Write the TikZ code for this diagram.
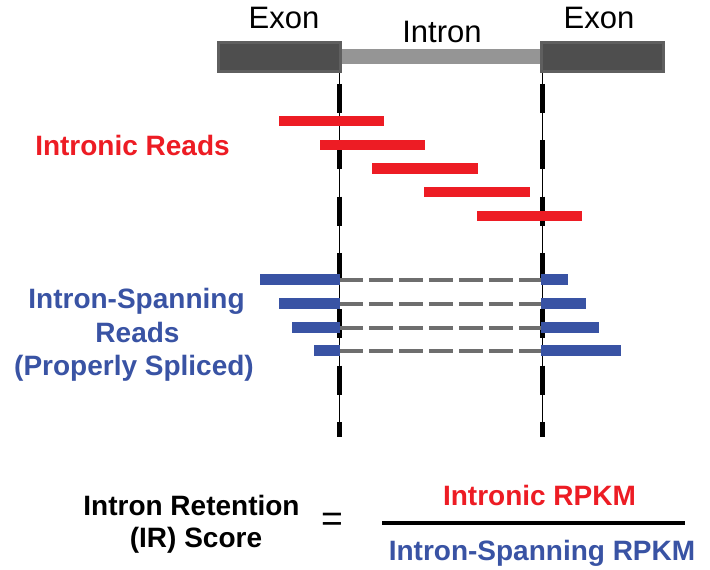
\documentclass[tikz,border=0pt]{standalone}
\usepackage{fontspec}
\setmainfont{Liberation Sans}
\definecolor{exonfill}{HTML}{4E4E4E}
\definecolor{exonedge}{HTML}{5F5F5F}
\definecolor{introngray}{HTML}{959595}
\definecolor{readred}{HTML}{ED1C24}
\definecolor{readblue}{HTML}{3953A4}
\definecolor{gapgray}{HTML}{6E6E6E}
\begin{document}
\begin{tikzpicture}[x=0.75pt,y=-0.75pt,
  exonbox/.style={fill=exonfill,draw=exonedge,line width=2.25pt},
  thinv/.style={draw=black,line width=0.9pt},
  thickdash/.style={draw=black,line width=3.75pt,dash pattern=on 21.75pt off 20.5pt},
  gapline/.style={draw=gapgray,line width=3.4pt,dash pattern=on 18pt off 4.5pt},
  redread/.style={fill=readred},
  blueread/.style={fill=readblue},
  toplabel/.style={anchor=base,inner sep=0pt,font=\fontsize{23.25}{28}\selectfont},
  boldlabel/.style={anchor=base,inner sep=0pt,font=\bfseries\fontsize{21}{25}\selectfont}]
\useasboundingbox (0,0) rectangle (710,570);
\fill[white] (0,0) rectangle (710,570);
% gene model
\draw[exonbox] (218.5,42.5) rectangle (340.5,71.5);
\fill[introngray] (342,49) rectangle (540,64);
\draw[exonbox] (541.5,42.5) rectangle (663.5,71.5);
\node[toplabel] (exonL) at (284,29) {Exon};
\node[toplabel] (intron) at (442,43) {Intron};
\node[toplabel] (exonR) at (599,29) {Exon};
% splice-site lines
\coordinate (LT) at (339.5,73);
\coordinate (LD) at (339.5,84);
\coordinate (LB) at (339.5,437);
\coordinate (RT) at (542.5,73);
\coordinate (RD) at (542.5,84);
\coordinate (RB) at (542.5,437);
\draw[thinv] (LT) -- (LB);
\draw[thickdash] (LD) -- (LB);
\draw[thinv] (RT) -- (RB);
\draw[thickdash] (RD) -- (RB);
% intronic reads
\fill[redread] (279,116) rectangle (384,126);
\fill[redread] (320,140) rectangle (425,150);
\fill[redread] (372,163) rectangle (478,174);
\fill[redread] (424,187) rectangle (530,197);
\fill[redread] (477,211) rectangle (582,221);
\node[boldlabel,text=readred] (intronic) at (132.5,156) {Intronic Reads};
% intron-spanning reads
\foreach \yy in {280,304,328,351}{
  \draw[gapline] (339,\yy) -- (541,\yy);
}
\fill[blueread] (260,274) rectangle (340,285);
\fill[blueread] (541,274) rectangle (568,285);
\fill[blueread] (279,298) rectangle (340,309);
\fill[blueread] (541,298) rectangle (586,309);
\fill[blueread] (292,322) rectangle (340,333);
\fill[blueread] (541,322) rectangle (599,333);
\fill[blueread] (314,345) rectangle (340,356);
\fill[blueread] (541,345) rectangle (621,356);
\node[boldlabel,text=readblue] (span1) at (136.5,308) {Intron-Spanning};
\node[boldlabel,text=readblue] (span2) at (137.5,342) {Reads};
\node[boldlabel,text=readblue] (span3) at (134,375) {(Properly Spliced)};
% formula
\node[boldlabel] (irA) at (191.5,515) {Intron Retention};
\node[boldlabel] (irB) at (196,547) {(IR) Score};
\node[anchor=center,inner sep=0pt,font=\fontsize{28}{32}\selectfont] (eq) at (332,522.5) {=};
\node[boldlabel,text=readred] (num) at (539.5,505) {Intronic RPKM};
\node[boldlabel,text=readblue] (den) at (542,560) {Intron-Spanning RPKM};
\coordinate (fracL) at (382,523);
\coordinate (fracR) at (685,523);
\draw[line width=3pt] (fracL) -- (fracR);
\end{tikzpicture}
\end{document}
